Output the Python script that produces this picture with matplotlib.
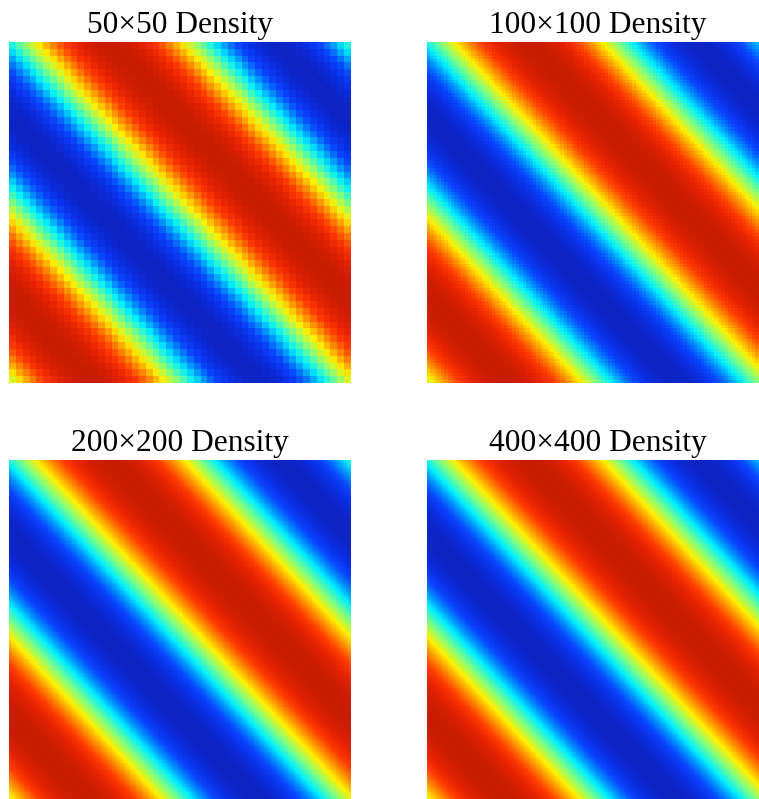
import numpy as np
import matplotlib.pyplot as plt
from matplotlib.colors import LinearSegmentedColormap

# grid resolutions and panel titles
grid_sizes = [50, 100, 200, 400]
titles = ["50×50 Density", "100×100 Density", "200×200 Density", "400×400 Density"]

# wave field z = sin(x + y + phase) on a rectangular domain
x_range = (0.0, 2 * np.pi)
y_range = (0.0, 5.87)
phase = 0.12

# jet-like palette without the very dark ends
cmap_colors = [
    (0.00, "#0e24c4"),
    (0.07, "#0a30e6"),
    (0.14, "#0a46ff"),
    (0.23, "#0096ff"),
    (0.32, "#00f0ff"),
    (0.46, "#80ff80"),
    (0.60, "#fff000"),
    (0.72, "#ff8c00"),
    (0.82, "#ff3c00"),
    (0.91, "#e62300"),
    (1.00, "#c81c00"),
]
cmap = LinearSegmentedColormap.from_list("wave", cmap_colors)

W, H = 759, 799
fig = plt.figure(figsize=(W / 100, H / 100), dpi=100)

# panel boxes in pixels: left, top
boxes = [(9, 42), (427, 42), (9, 460), (427, 460)]
pw, ph = 342, 341

for n, title, (left, top) in zip(grid_sizes, titles, boxes):
    ax = fig.add_axes([left / W, 1 - (top + ph) / H, pw / W, ph / H])
    xs = np.linspace(*x_range, n)
    ys = np.linspace(*y_range, n)
    X, Y = np.meshgrid(xs, ys)
    Z = np.sin(X + Y + phase)
    ax.imshow(Z, cmap=cmap, origin="lower", aspect="auto",
              interpolation="nearest", vmin=-1, vmax=1)
    ax.set_title(title, fontsize=22.6, family="Liberation Serif", pad=6.5)
    ax.axis("off")

fig.savefig("out.png", dpi=100)
